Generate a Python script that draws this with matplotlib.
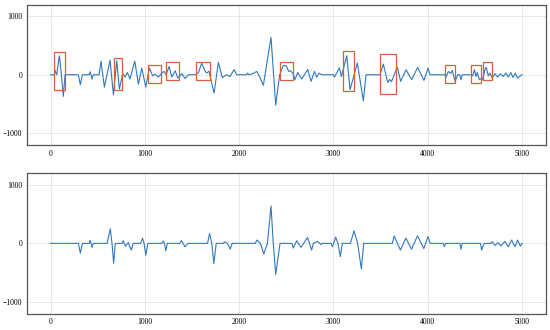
import matplotlib
matplotlib.use("Agg")
import matplotlib.pyplot as plt
from matplotlib.patches import Rectangle

# raw signal (upper panel): turning points
raw_x = [0, 40, 48, 65, 94, 115, 136, 154,
         295, 316, 338, 410, 419, 430, 440, 454,
         515, 535, 571, 631, 667, 702, 730, 765, 790, 815, 843, 893, 932, 968, 1010,
         1048, 1083, 1108, 1144, 1180, 1205, 1225,
         1258, 1286, 1322, 1350, 1392, 1427, 1463,
         1541, 1570, 1603, 1640, 1656, 1680, 1734, 1780, 1822, 1864, 1903, 1946, 1975,
         2080, 2090, 2104, 2147, 2187, 2219, 2257, 2338, 2388, 2430,
         2469, 2500, 2525, 2545, 2575, 2593, 2621, 2664, 2727, 2763, 2798, 2823, 2848, 2876,
         3000, 3011, 3063, 3085, 3141, 3176, 3254, 3317, 3346,
         3494, 3529, 3576, 3597, 3615, 3678, 3713, 3770, 3830, 3893, 3960, 4003, 4024,
         4180, 4194, 4219, 4244, 4261, 4290, 4318, 4340, 4353, 4365,
         4460, 4477, 4495, 4512, 4526, 4547, 4562, 4579, 4595, 4607, 4621, 4642, 4660, 4685,
         4713, 4741, 4770, 4800, 4830, 4855, 4880, 4905, 4930, 4950, 5000]
raw_y = [0, 0, 74, 0, 325, 0, -370, 0,
         0, -171, 0, 0, 51, 0, -74, 0,
         0, 229, -211, 251, -343, 240, -246, 20, -40, 40, -74, 234, -160, 114, -211,
         115, -20, 10, -40, 29, 57, 0,
         143, -40, 69, -57, 17, -63, 0,
         0, 40, 200, 60, 29, 60, -314, 211, -51, 0, -30, 86, 0,
         0, 29, 0, 20, 57, -40, -180, 640, -520, 0,
         160, 150, 57, 70, 10, -86, 40, -74, 91, -114, 57, -40, 29, 0,
         0, -40, 120, -30, 326, -257, 200, -446, 0,
         0, 183, -131, -80, -120, 130, -114, 86, -86, 126, -97, 114, 0,
         0, -40, 57, 20, 74, -114, 0, 0, -86, 0,
         0, -20, 86, -30, 40, -86, -70, -86, 0, 90, 126, -20, 29, -57,
         17, -40, 17, -30, 29, -40, 40, -46, 29, -57, 0]

# cleaned signal (lower panel)
clean_x = [0, 295, 316, 338, 410, 419, 430, 440, 454,
           600, 634, 652, 669, 687,
           760, 771, 796, 824, 856, 877,
           955, 975, 992, 1010, 1032,
           1180, 1194, 1208, 1222, 1239,
           1370, 1387, 1405, 1426, 1458,
           1665, 1687, 1710, 1732, 1757,
           1830, 1845, 1875, 1905, 1926,
           2170, 2190, 2225, 2262, 2300, 2338, 2362, 2388, 2434,
           2560, 2574, 2610, 2656, 2726, 2769, 2786, 2832, 2867, 2880,
           2975, 2988, 3003, 3023, 3048, 3073, 3094,
           3180, 3218, 3257, 3296, 3321,
           3625, 3644, 3711, 3768, 3828, 3892, 3959, 4002, 4027,
           4165, 4175, 4190, 4340, 4352, 4365, 4560, 4571, 4599,
           4670, 4684, 4713, 4748, 4776, 4819, 4854, 4890, 4925, 4953, 4982, 5000]
clean_y = [0, 0, -165, 0, 0, 50, 0, -68, 0,
           0, 250, 0, -340, 0,
           0, 45, -50, 15, -115, 0,
           0, 90, 0, -205, 0,
           0, 40, 0, -125, 0,
           0, 50, 0, -57, 0,
           0, 170, 0, -345, 0,
           0, 25, 0, -97, 0,
           0, 57, 0, -180, 0, 640, 0, -530, 0,
           0, -80, 45, -68, 100, -115, 0, 35, -20, 0,
           0, -57, 0, 108, 0, -227, 0,
           0, 215, 0, -437, 0,
           0, 125, -115, 90, -100, 130, -90, 115, 0,
           0, -57, 0, 0, -100, 0, 0, -115, 0,
           0, 28, -34, 11, -45, 34, -57, 57, -57, 57, -45, 0]

# highlighted regions: start, end, low, high
box_x0 = [37, 674, 1030, 1223, 1541, 2430, 3100, 3494, 4187, 4459, 4590]
box_x1 = [157, 763, 1170, 1364, 1686, 2575, 3220, 3660, 4293, 4562, 4685]
box_lo = [-263, -263, -143, -91, -91, -91, -274, -326, -143, -143, -91]
box_hi = [389, 291, 166, 217, 217, 217, 400, 355, 171, 171, 223]

plt.rcParams['font.family'] = ['Liberation Serif', 'DejaVu Serif']
plt.rcParams['font.size'] = 5.5

fig = plt.figure(figsize=(5.5, 3.3), dpi=100)
ax1 = fig.add_axes([0.049, 0.561, 0.943, 0.425])
ax2 = fig.add_axes([0.049, 0.050, 0.943, 0.425])

line_color = '#3079bd'
ax1.plot(raw_x, raw_y, color=line_color, lw=0.8, solid_joinstyle='round')
ax2.plot(clean_x, clean_y, color=line_color, lw=0.8, solid_joinstyle='round')

for x0, x1, lo, hi in zip(box_x0, box_x1, box_lo, box_hi):
    ax1.add_patch(Rectangle((x0, lo), x1 - x0, hi - lo, fill=False,
                            edgecolor='#d4603c', lw=0.9, zorder=3))

for ax in (ax1, ax2):
    ax.set_xlim(-250, 5250)
    ax.set_ylim(-1200, 1200)
    ax.set_xticks([0, 1000, 2000, 3000, 4000, 5000])
    ax.set_yticks([-1000, 0, 1000])
    ax.grid(True, color='#e4e4e4', lw=0.6)
    ax.set_axisbelow(True)
    ax.tick_params(length=0, pad=3.5, labelsize=5.5)
    for s in ax.spines.values():
        s.set_color('#555555')
        s.set_linewidth(0.9)

fig.savefig('out.png', dpi=100)
